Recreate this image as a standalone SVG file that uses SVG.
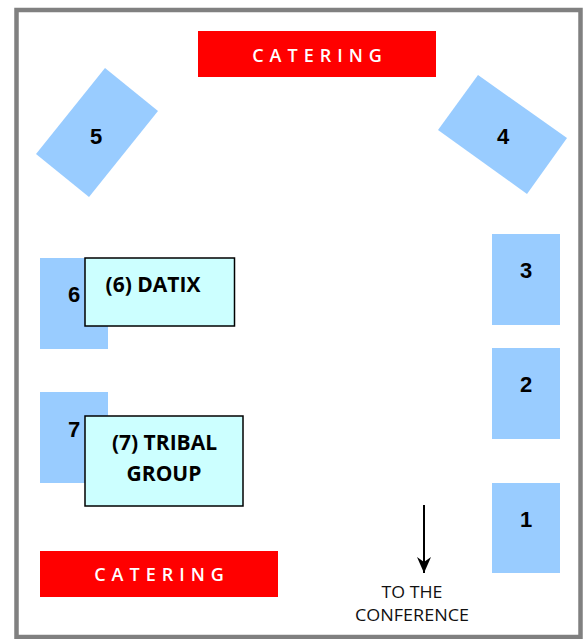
<svg xmlns="http://www.w3.org/2000/svg" width="586" height="639" viewBox="0 0 586 639">
<defs>
<style>
.table{fill:#99CCFF;}
.num{font-family:"Liberation Sans",Arial,sans-serif;font-weight:bold;font-size:22px;fill:#000;text-anchor:middle;}
.cat{fill:#FF0000;}
.catt{font-family:"Open Sans","DejaVu Sans",sans-serif;font-weight:600;font-size:18px;fill:#fff;text-anchor:middle;letter-spacing:6px;}
.box{fill:#CCFFFF;stroke:#000;stroke-width:1.5;}
.boxt{font-family:"Open Sans","DejaVu Sans",sans-serif;font-weight:bold;font-size:21px;fill:#000;text-anchor:middle;}
.note{font-family:"Open Sans","DejaVu Sans",sans-serif;font-size:16px;fill:#111;text-anchor:middle;}
</style>
<marker id="ah" markerWidth="16" markerHeight="14" refX="16" refY="7" orient="auto" markerUnits="userSpaceOnUse" viewBox="0 0 16 14">
<path d="M0,0 L16,7 L0,14 L5,7 Z" fill="#000"/>
</marker>
</defs>
<rect x="0" y="0" width="586" height="639" fill="#fff"/>
<rect x="16.5" y="10" width="564" height="627" fill="#fff" stroke="#808080" stroke-width="4.5"/>

<g id="catering-top">
<rect class="cat" x="198" y="31" width="238" height="46"/>
<text class="catt" x="320" y="62">CATERING</text>
</g>
<g id="catering-bottom">
<rect class="cat" x="40" y="551" width="238" height="46"/>
<text class="catt" x="162" y="581">CATERING</text>
</g>

<g id="table5">
<polygon class="table" points="36,154 105,68 158,111 89,197"/>
<text class="num" x="96" y="144">5</text>
</g>
<g id="table4">
<polygon class="table" points="478,75 567,138 527,194 438,130"/>
<text class="num" x="503" y="144">4</text>
</g>
<g id="table3">
<rect class="table" x="492" y="234" width="68" height="91"/>
<text class="num" x="526" y="278">3</text>
</g>
<g id="table2">
<rect class="table" x="492" y="348" width="68" height="91"/>
<text class="num" x="526" y="392">2</text>
</g>
<g id="table1">
<rect class="table" x="492" y="483" width="68" height="90"/>
<text class="num" x="526" y="527">1</text>
</g>
<g id="table6">
<rect class="table" x="40" y="258" width="68" height="91"/>
<text class="num" x="74" y="302">6</text>
</g>
<g id="datix">
<rect class="box" x="85" y="258" width="149.5" height="68"/>
<text class="boxt" x="153" y="292">(6) DATIX</text>
</g>
<g id="table7">
<rect class="table" x="40" y="392" width="68" height="91"/>
<text class="num" x="74" y="437">7</text>
</g>
<g id="tribal">
<rect class="box" x="85" y="416" width="158" height="90"/>
<text class="boxt" x="164.5" y="450">(7) TRIBAL</text>
<text class="boxt" x="164" y="481">GROUP</text>
</g>

<g id="connectors">
<line x1="424" y1="505" x2="424" y2="573" stroke="#000" stroke-width="2" marker-end="url(#ah)"/>
</g>
<g id="exit-label">
<text class="note" x="412" y="598" textLength="61" lengthAdjust="spacingAndGlyphs">TO THE</text>
<text class="note" x="412" y="621" textLength="114" lengthAdjust="spacingAndGlyphs">CONFERENCE</text>
</g>
</svg>
